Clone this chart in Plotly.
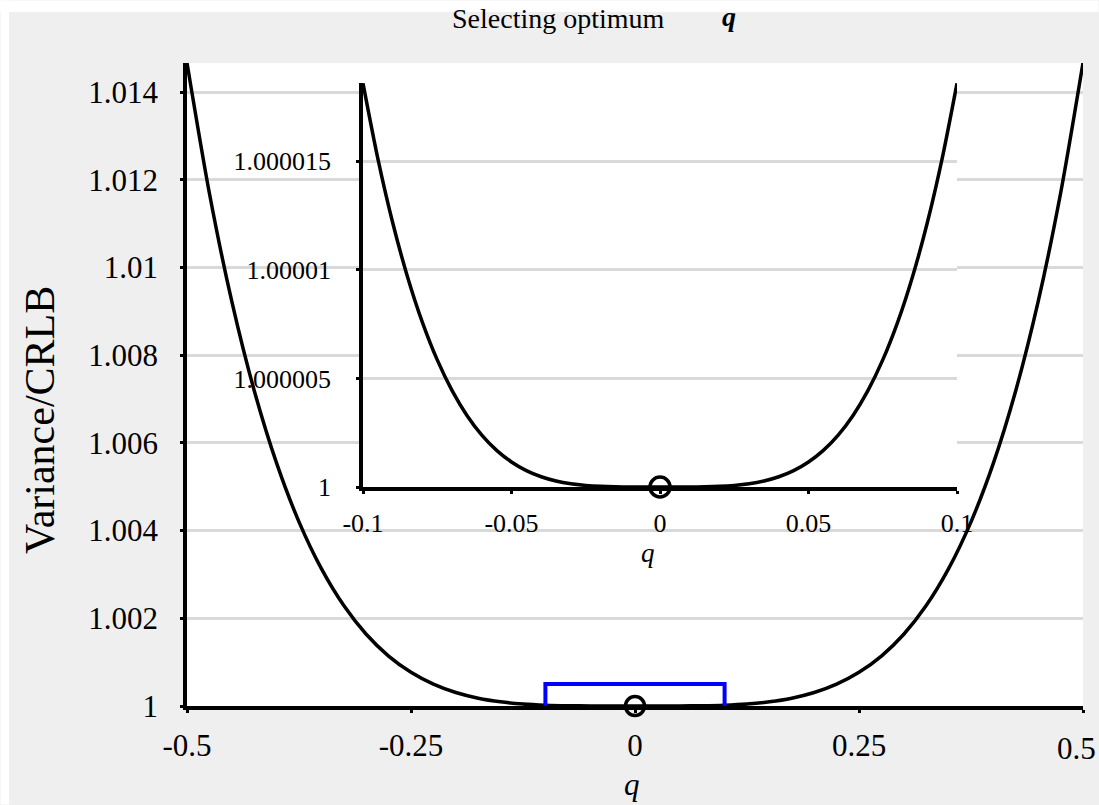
import plotly.graph_objects as go

# ---------------- data ----------------
q_main = [-0.5, -0.475, -0.45, -0.425, -0.4, -0.375, -0.35, -0.325, -0.3, -0.275,
          -0.25, -0.225, -0.2, -0.175, -0.15, -0.125, -0.1, -0.075, -0.05, -0.025,
          0.0,
          0.025, 0.05, 0.075, 0.1, 0.125, 0.15, 0.175, 0.2, 0.225, 0.25,
          0.275, 0.3, 0.325, 0.35, 0.375, 0.4, 0.425, 0.45, 0.475, 0.5]
ratio_main = [1.014666, 1.011693, 1.009226, 1.007195, 1.005538, 1.004200, 1.003132,
              1.002290, 1.001637, 1.001139, 1.000768, 1.000498, 1.000307, 1.000178,
              1.0000954, 1.0000456, 1.0000186, 1.0000059, 1.0000012, 1.00000007,
              1.0,
              1.00000007, 1.0000012, 1.0000059, 1.0000186, 1.0000456, 1.0000954,
              1.000178, 1.000307, 1.000498, 1.000768, 1.001139, 1.001637, 1.002290,
              1.003132, 1.004200, 1.005538, 1.007195, 1.009226, 1.011693, 1.014666]

q_inset = [-0.1, -0.095, -0.09, -0.085, -0.08, -0.075, -0.07, -0.065, -0.06, -0.055,
           -0.05, -0.045, -0.04, -0.035, -0.03, -0.025, -0.02, -0.015, -0.01, -0.005,
           0.0,
           0.005, 0.01, 0.015, 0.02, 0.025, 0.03, 0.035, 0.04, 0.045, 0.05,
           0.055, 0.06, 0.065, 0.07, 0.075, 0.08, 0.085, 0.09, 0.095, 0.1]
ratio_inset = [1.000018583, 1.000015120, 1.000012167, 1.000009671, 1.000007582,
               1.000005851, 1.000004437, 1.000003296, 1.000002392, 1.000001688,
               1.000001152, 1.000000755, 1.000000471, 1.000000276, 1.000000149,
               1.0000000718, 1.0000000294, 1.0000000093, 1.0000000018, 1.0000000001,
               1.0,
               1.0000000001, 1.0000000018, 1.0000000093, 1.0000000294, 1.0000000718,
               1.000000149, 1.000000276, 1.000000471, 1.000000755, 1.000001152,
               1.000001688, 1.000002392, 1.000003296, 1.000004437, 1.000005851,
               1.000007582, 1.000009671, 1.000012167, 1.000015120, 1.000018583]

optimum_q = [0.0]
optimum_ratio = [1.0]

zoom_box_q = [-0.1, -0.1, 0.1, 0.1]
zoom_box_ratio = [1.0, 1.0005, 1.0005, 1.0]

main_x_ticks = [-0.5, -0.25, 0, 0.25, 0.5]
main_x_labels = ["-0.5", "-0.25", "0", "0.25", "0.5"]
main_y_ticks = [1, 1.002, 1.004, 1.006, 1.008, 1.01, 1.012, 1.014]
main_y_labels = ["1", "1.002", "1.004", "1.006", "1.008", "1.01", "1.012", "1.014"]
inset_x_ticks = [-0.1, -0.05, 0, 0.05, 0.1]
inset_x_labels = ["-0.1", "-0.05", "0", "0.05", "0.1"]
inset_y_ticks = [1, 1.000005, 1.00001, 1.000015]
inset_y_labels = ["1", "1.000005", "1.00001", "1.000015"]

# ---------------- figure ----------------
W, H = 1099, 805
L, R, T, B = 187, 16, 63, 99
pw, ph = W - L - R, H - T - B


def px(x):
    return (x - L) / pw


def py(y):
    return (H - B - y) / ph


FONT = "Liberation Serif, Times New Roman, serif"
GRID = "#d9d9d9"

fig = go.Figure()

fig.add_trace(go.Scatter(x=q_main, y=ratio_main, mode="lines",
                         line=dict(color="black", width=3.5, shape="spline", smoothing=0.8),
                         xaxis="x", yaxis="y", showlegend=False, hoverinfo="skip"))
fig.add_trace(go.Scatter(x=zoom_box_q, y=zoom_box_ratio, mode="lines",
                         line=dict(color="#0000ff", width=4),
                         xaxis="x", yaxis="y", showlegend=False, hoverinfo="skip"))
fig.add_trace(go.Scatter(x=optimum_q, y=optimum_ratio, mode="markers",
                         marker=dict(symbol="circle-open", size=19, color="black",
                                     line=dict(width=3.5, color="black")),
                         cliponaxis=False, xaxis="x", yaxis="y", showlegend=False))

fig.add_trace(go.Scatter(x=q_inset, y=ratio_inset, mode="lines",
                         line=dict(color="black", width=3.5, shape="spline", smoothing=0.8),
                         xaxis="x2", yaxis="y2", showlegend=False, hoverinfo="skip"))
fig.add_trace(go.Scatter(x=optimum_q, y=optimum_ratio, mode="markers",
                         marker=dict(symbol="circle-open", size=20, color="black",
                                     line=dict(width=3.5, color="black")),
                         cliponaxis=False, xaxis="x2", yaxis="y2", showlegend=False))


def axis_style(size):
    return dict(showline=True, linecolor="black", linewidth=3.5, ticks="outside",
                ticklen=3, tickwidth=3, tickcolor="black", zeroline=False,
                automargin=False,
                tickfont=dict(family=FONT, size=size, color="black"))


# the last main x label sits at the very right edge of the picture; it is drawn
# as an annotation so that it stays visible
main_x_text = main_x_labels[:-1] + [""]

# inset position (in paper fractions of the main plot area)
ix0, ix1 = px(363), px(957)
iy0, iy1 = py(487), py(83)

fig.update_layout(
    width=W, height=H,
    autosize=False,
    margin=dict(l=L, r=R, t=T, b=B, autoexpand=False),
    paper_bgcolor="#efefef",
    plot_bgcolor="white",
    font=dict(family=FONT, color="black"),
    xaxis=dict(range=[-0.5, 0.5], tickvals=main_x_ticks, ticktext=main_x_text,
               showgrid=False, ticklabelstandoff=6, domain=[0, 1], **axis_style(31)),
    yaxis=dict(range=[1, 1.014664], tickvals=main_y_ticks, ticktext=main_y_labels,
               showgrid=True, gridcolor=GRID, gridwidth=2.5, ticklabelstandoff=16,
               domain=[0, 1], **axis_style(31)),
    xaxis2=dict(range=[-0.1, 0.1], tickvals=inset_x_ticks, ticktext=inset_x_labels,
                showgrid=False, domain=[ix0, ix1], anchor="y2", ticklabelstandoff=7,
                **axis_style(26)),
    yaxis2=dict(range=[1, 1.0000186], tickvals=inset_y_ticks, ticktext=inset_y_labels,
                showgrid=True, gridcolor=GRID, gridwidth=2.5, domain=[iy0, iy1],
                anchor="x2", ticklabelstandoff=20, **axis_style(26)),
    shapes=[
        # white frame margins of the picture
        dict(type="rect", xref="paper", yref="paper", x0=px(0), x1=px(W - 0.5), y0=py(0.5), y1=py(12),
             fillcolor="white", line=dict(width=0), layer="below"),
        dict(type="rect", xref="paper", yref="paper", x0=px(0.5), x1=px(9), y0=py(H - 0.5), y1=py(0.5),
             fillcolor="white", line=dict(width=0), layer="below"),
    ],
    annotations=[
        dict(text="Selecting optimum", x=px(558), y=py(18), xref="paper", yref="paper",
             showarrow=False, xanchor="center", yanchor="middle",
             font=dict(family=FONT, size=28, color="black")),
        dict(text="<b><i>q</i></b>", x=px(729), y=py(17), xref="paper", yref="paper",
             showarrow=False, xanchor="center", yanchor="middle",
             font=dict(family=FONT, size=28, color="black")),
        dict(text="Variance/CRLB", x=px(40), y=py(420), xref="paper", yref="paper",
             showarrow=False, xanchor="center", yanchor="middle", textangle=-90,
             font=dict(family=FONT, size=42, color="black")),
        dict(text="<i>q</i>", x=px(632), y=py(784), xref="paper", yref="paper",
             showarrow=False, xanchor="center", yanchor="middle",
             font=dict(family=FONT, size=31, color="black")),
        dict(text="<i>q</i>", x=px(648), y=py(553), xref="paper", yref="paper",
             showarrow=False, xanchor="center", yanchor="middle",
             font=dict(family=FONT, size=27, color="black")),
        dict(text=main_x_labels[-1], x=px(1098), y=0, xref="paper", yref="paper",
             yshift=-23, showarrow=False, xanchor="right", yanchor="top",
             font=dict(family=FONT, size=31, color="black")),
    ],
)

fig.write_html("out.html")
